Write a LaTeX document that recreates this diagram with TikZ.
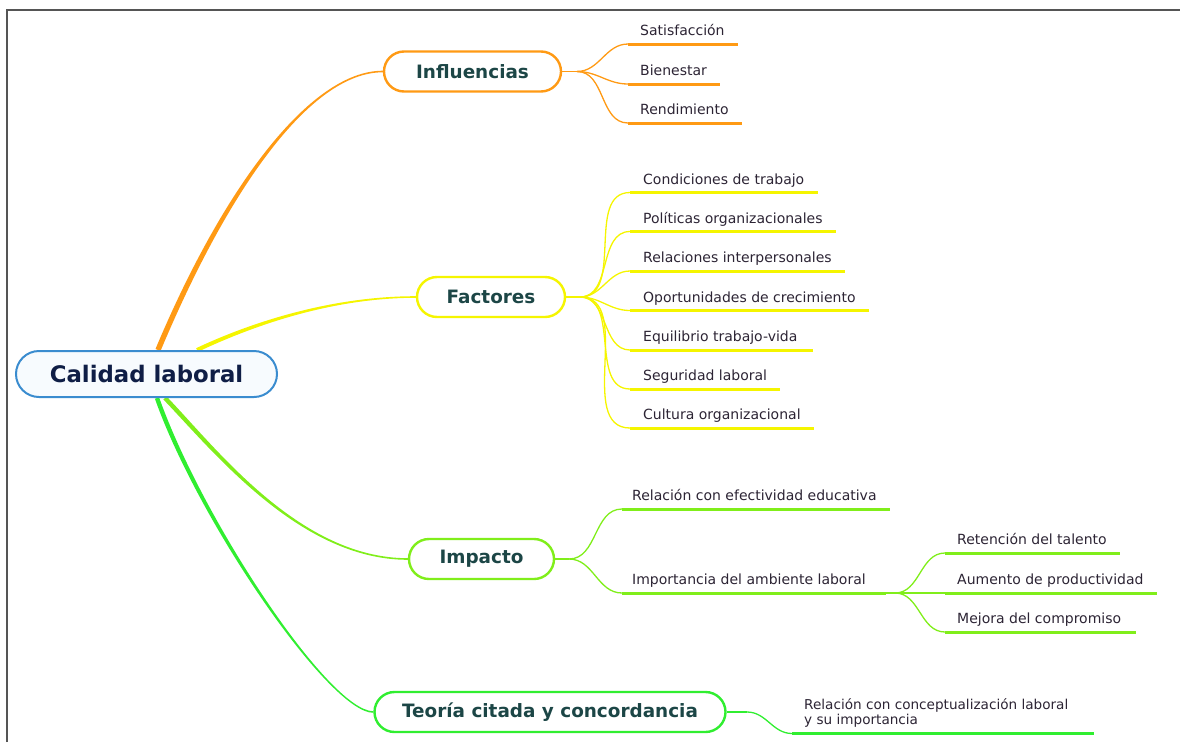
\documentclass[tikz,border=0pt]{standalone}
\usepackage{fontspec}
\setmainfont{DejaVu Sans}
\usetikzlibrary{calc,backgrounds}
\definecolor{cOr}{HTML}{FF9A14}
\definecolor{cYe}{HTML}{F5F500}
\definecolor{cLi}{HTML}{80EE1A}
\definecolor{cGr}{HTML}{30EE30}
\definecolor{cRoot}{HTML}{3A8CCF}
\definecolor{cRootFill}{HTML}{F7FBFE}
\definecolor{cHeadTxt}{HTML}{1C4646}
\definecolor{cRootTxt}{HTML}{0F1E46}
\definecolor{cLeafTxt}{HTML}{2C2434}
\definecolor{cFrame}{HTML}{555555}
\newcommand\taperlink[7]{%
  \coordinate (bA) at ($(#1)!#5!90:(#2)$);
  \coordinate (bB) at ($(#4)!#6!-90:(#3)$);
  \fill[#7] (bA) .. controls ($(#2)+(bA)-(#1)$) and ($(#3)+(bB)-(#4)$) .. (bB)
    -- ($2*(#4)-(bB)$) .. controls ($(#3)-(bB)+(#4)$) and ($(#2)-(bA)+(#1)$) .. ($2*(#1)-(bA)$) -- cycle;
}
\tikzset{
  rootbox/.style={draw=cRoot, line width=2pt, fill=cRootFill, rounded corners=23pt,
    minimum width=261pt, minimum height=46pt, inner sep=0pt, text=cRootTxt,
    font=\fontsize{22.8}{26}\selectfont\bfseries},
  headbox/.style={draw=#1, line width=2.4pt, fill=white, rounded corners=20pt,
    minimum height=40pt, inner sep=0pt, text=cHeadTxt,
    font=\fontsize{18.4}{21}\selectfont\bfseries},
  leaf/.style={anchor=base west, inner sep=0pt, text=cLeafTxt,
    font=\fontsize{14}{15}\selectfont},
  uline/.style={draw=#1, line width=3pt},
  twig/.style={draw=#1, line width=1.3pt},
}
\begin{document}
\begin{tikzpicture}[x=1pt,y=-1pt]
\useasboundingbox (0,0) rectangle (1180,742);
\draw[cFrame, line width=1.2pt] (7,742) -- (7,10) -- (1180,10);

% main nodes
\node[rootbox] (root) at (146.5,374) {Calidad laboral};
\node[headbox=cOr, minimum width=177pt] (inf) at (472.5,71.5) {Influencias};
\node[headbox=cYe, minimum width=148pt] (fac) at (491,297) {Factores};
\node[headbox=cLi, minimum width=145pt] (imp) at (481.5,559) {Impacto};
\node[headbox=cGr, minimum width=351pt] (teo) at (550,712) {Teoría citada y concordancia};

% Influencias leaves
\node[leaf] (s1) at (640,35.5) {Satisfacción};
\node[leaf] (s2) at (640,75.5) {Bienestar};
\node[leaf] (s3) at (640,114.5) {Rendimiento};
\coordinate (u1a) at (628,44);  \coordinate (u1b) at (738,44);
\coordinate (u2a) at (628,84);  \coordinate (u2b) at (720,84);
\coordinate (u3a) at (628,123); \coordinate (u3b) at (742,123);

% Factores leaves
\node[leaf] (f1) at (643,184)   {Condiciones de trabajo};
\node[leaf] (f2) at (643,223)   {Políticas organizacionales};
\node[leaf] (f3) at (643,262.5) {Relaciones interpersonales};
\node[leaf] (f4) at (643,302)   {Oportunidades de crecimiento};
\node[leaf] (f5) at (643,341.5) {Equilibrio trabajo-vida};
\node[leaf] (f6) at (643,380.5) {Seguridad laboral};
\node[leaf] (f7) at (643,419.5) {Cultura organizacional};
\coordinate (v1a) at (630,192.5); \coordinate (v1b) at (818,192.5);
\coordinate (v2a) at (630,231.5); \coordinate (v2b) at (836,231.5);
\coordinate (v3a) at (630,271)   ; \coordinate (v3b) at (845,271);
\coordinate (v4a) at (630,310.5) ; \coordinate (v4b) at (869,310.5);
\coordinate (v5a) at (630,350)   ; \coordinate (v5b) at (813,350);
\coordinate (v6a) at (630,389)   ; \coordinate (v6b) at (780,389);
\coordinate (v7a) at (630,428)   ; \coordinate (v7b) at (814,428);

% Impacto leaves
\node[leaf] (m1) at (632,500.5) {Relación con efectividad educativa};
\node[leaf] (m2) at (632,584.5) {Importancia del ambiente laboral};
\coordinate (w1a) at (622,509); \coordinate (w1b) at (890,509);
\coordinate (w2a) at (622,593); \coordinate (w2b) at (886,593);
\node[leaf] (n1) at (957,544.5) {Retención del talento};
\node[leaf] (n2) at (957,584.5) {Aumento de productividad};
\node[leaf] (n3) at (957,623.5) {Mejora del compromiso};
\coordinate (x1a) at (945,553); \coordinate (x1b) at (1120,553);
\coordinate (x2a) at (945,593); \coordinate (x2b) at (1157,593);
\coordinate (x3a) at (945,632); \coordinate (x3b) at (1136,632);

% Teoria leaf
\node[leaf, anchor=south west, align=left, font=\fontsize{13.6}{15}\selectfont] (t1) at (804,727.5)
  {Relación con conceptualización laboral\\y su importancia};
\coordinate (y1a) at (792,733.5); \coordinate (y1b) at (1094,733.5);

% forks
\coordinate (fI) at (577,71.5);
\coordinate (fF) at (580,297);
\coordinate (fM) at (569,559);
\coordinate (fS) at (895,593);
\coordinate (fT) at (747,712);

\begin{scope}[on background layer]
  % main branches
  \coordinate (r1) at ($(root.north)+(11.5,0)$);
  \coordinate (r2) at ($(root.north)+(50.5,0)$);
  \coordinate (r3) at ($(root.south)+(18.5,0)$);
  \coordinate (r4) at ($(root.south)+(10.5,0)$);
  \coordinate (c1) at (225,190);  \coordinate (c2) at ($(inf.west)+(-73,0)$);
  \coordinate (d1) at (250,325);  \coordinate (d2) at ($(fac.west)+(-86,0)$);
  \coordinate (e1) at (215,450);  \coordinate (e2) at ($(imp.west)+(-108,0)$);
  \coordinate (g1) at (200,520);  \coordinate (g2) at ($(teo.west)+(-44,0)$);
  \taperlink{r1}{c1}{c2}{inf.west}{2.7pt}{0.8pt}{cOr}
  \taperlink{r2}{d1}{d2}{fac.west}{2pt}{0.8pt}{cYe}
  \taperlink{r3}{e1}{e2}{imp.west}{2.2pt}{0.8pt}{cLi}
  \taperlink{r4}{g1}{g2}{teo.west}{2.2pt}{0.8pt}{cGr}

  % twigs
  \draw[twig=cOr] (inf.east) -- (fI);
  \foreach \u in {u1a,u2a,u3a} \draw[twig=cOr] (fI) to[out=0,in=180] (\u);
  \draw[twig=cYe] (fac.east) -- (fF);
  \foreach \u in {v1a,v2a,v3a,v4a,v5a,v6a,v7a} \draw[twig=cYe] (fF) to[out=0,in=180] (\u);
  \draw[twig=cLi] (imp.east) -- (fM);
  \foreach \u in {w1a,w2a} \draw[twig=cLi] (fM) to[out=0,in=180] (\u);
  \draw[twig=cLi] (w2b) -- (fS);
  \foreach \u in {x1a,x2a,x3a} \draw[twig=cLi] (fS) to[out=0,in=180] (\u);
  \draw[twig=cGr] (teo.east) -- (fT);
  \draw[twig=cGr] (fT) to[out=0,in=180] (y1a);
\end{scope}

% underlines
\foreach \a/\b in {u1a/u1b,u2a/u2b,u3a/u3b} \draw[uline=cOr] (\a) -- (\b);
\foreach \a/\b in {v1a/v1b,v2a/v2b,v3a/v3b,v4a/v4b,v5a/v5b,v6a/v6b,v7a/v7b} \draw[uline=cYe] (\a) -- (\b);
\foreach \a/\b in {w1a/w1b,w2a/w2b,x1a/x1b,x2a/x2b,x3a/x3b} \draw[uline=cLi] (\a) -- (\b);
\draw[uline=cGr] (y1a) -- (y1b);
\end{tikzpicture}
\end{document}
